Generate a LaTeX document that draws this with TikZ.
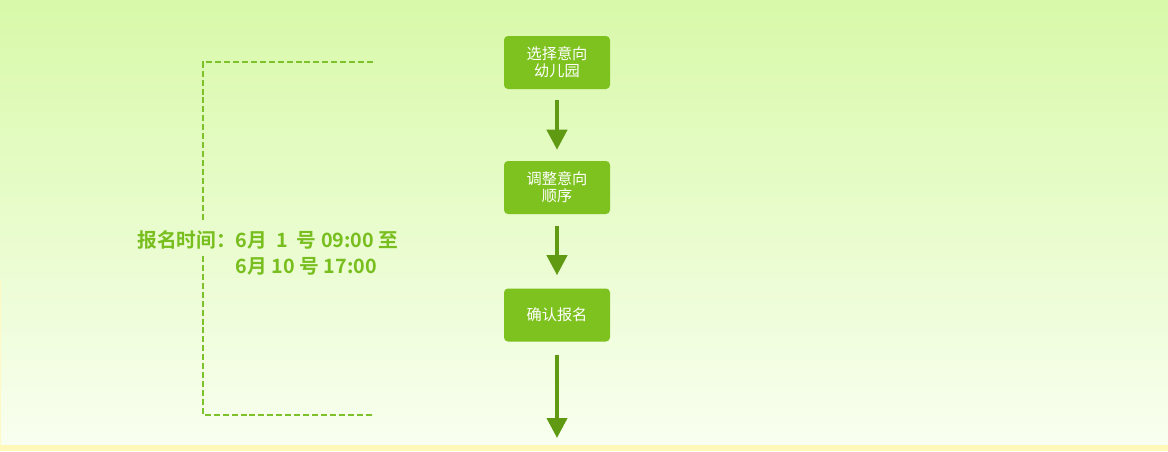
\documentclass[tikz,border=0pt]{standalone}
\usepackage{fontspec}
\setmainfont{Noto Sans CJK SC}
\newfontfamily\cjkbold{Noto Sans CJK SC Bold}
\usetikzlibrary{arrows.meta}
\definecolor{bgtop}{HTML}{D8F9A9}
\definecolor{bgbot}{HTML}{F9FFF0}
\definecolor{bandyel}{HTML}{FFF8B8}
\definecolor{boxgreen}{HTML}{7EC21F}
\definecolor{arrowgreen}{HTML}{5F9A12}
\definecolor{dashgreen}{HTML}{7DC22A}
\definecolor{txtgreen}{HTML}{78BE1E}
\tikzset{
  stepbox/.style={fill=boxgreen, rounded corners=3pt, minimum width=106*0.75pt, minimum height=53*0.75pt, inner sep=0pt, text=white, font=\fontsize{11.4pt}{14pt}\selectfont, align=center},
  flowarrow/.style={draw=arrowgreen, line width=3pt, -{Triangle[width=15pt,length=15pt]}},
  bracket/.style={draw=dashgreen, line width=0.9pt, dash pattern=on 4.5pt off 2.2pt},
}
\begin{document}
\begin{tikzpicture}[x=0.75pt,y=-0.75pt]
\useasboundingbox (0,0) rectangle (1168,451);
\shade[top color=bgtop, bottom color=bgbot] (0,0) rectangle (1168,446);
\fill[bandyel] (0,445) rectangle (1168,451);
\fill[bandyel!80!white] (0,280) rectangle (1.2,445);
% boxes
\node[stepbox] (b1) at (557,62.5) {选择意向\\[-1pt]幼儿园};
\node[stepbox] (b2) at (557,187.5) {调整意向\\[-1pt]顺序};
\node[stepbox] (b3) at (557,315) {确认报名};
\coordinate (end) at (557,438);
\draw[flowarrow] ([yshift=-11*0.75pt]b1.south) -- ([yshift=11*0.75pt]b2.north);
\draw[flowarrow] ([yshift=-12*0.75pt]b2.south) -- ([yshift=13*0.75pt]b3.north);
\draw[flowarrow] ([yshift=-13*0.75pt]b3.south) -- (end);
% bracket
\coordinate (tr) at (373,62);
\coordinate (tl) at (203,62);
\coordinate (gt) at (203,222);
\coordinate (gb) at (203,256);
\coordinate (bl) at (203,415);
\coordinate (br) at (373,415);
\draw[bracket] (tr) -- (tl) -- (gt);
\draw[bracket] (gb) -- (bl) -- (br);
% label
\node[anchor=west, text=txtgreen, font=\cjkbold\fontsize{14.8pt}{19.5pt}\selectfont, align=left, inner sep=0pt] (lbl) at (137,253)
 {报名时间：6月\ \ 1\ \ 号 09:00 至\\\hphantom{报名时间：}6月 10 号 17:00};
\end{tikzpicture}
\end{document}
